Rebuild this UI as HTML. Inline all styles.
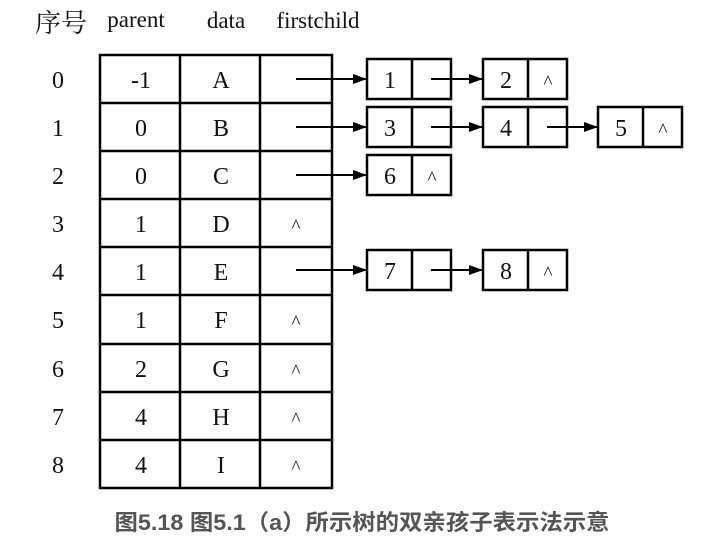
<!DOCTYPE html>
<html><head><meta charset="utf-8"><style>
body{margin:0;background:#fff;}
</style></head><body>
<svg width="718" height="556" xmlns="http://www.w3.org/2000/svg" style="display:block">
<defs><marker id="a" markerWidth="14" markerHeight="10" refX="14" refY="5" orient="auto" markerUnits="userSpaceOnUse"><path d="M0,0 L14,5 L0,10 z" fill="#000"/></marker></defs>
<g font-family="Liberation Serif, serif" font-size="23" fill="#111" text-anchor="middle">
<text x="61" y="32" font-family="Liberation Serif, Noto Serif CJK SC, serif" font-size="26">序号</text>
<text x="136" y="27">parent</text>
<text x="226" y="28">data</text>
<text x="318" y="28">firstchild</text>
</g>
<g stroke="#000" stroke-width="2.5" fill="none">
<rect x="100" y="55" width="232" height="433"/>
<line x1="180" y1="55" x2="180" y2="488"/>
<line x1="260" y1="55" x2="260" y2="488"/>
<line x1="100" y1="103" x2="332" y2="103"/>
<line x1="100" y1="151" x2="332" y2="151"/>
<line x1="100" y1="199" x2="332" y2="199"/>
<line x1="100" y1="247" x2="332" y2="247"/>
<line x1="100" y1="295" x2="332" y2="295"/>
<line x1="100" y1="344" x2="332" y2="344"/>
<line x1="100" y1="392" x2="332" y2="392"/>
<line x1="100" y1="440" x2="332" y2="440"/>
</g>
<g font-family="Liberation Serif, serif" font-size="24" fill="#111" text-anchor="middle">
<g><text x="58" y="88">0</text><text x="141" y="88">-1</text><text x="221" y="88">A</text></g>
<g><text x="58" y="136">1</text><text x="141" y="136">0</text><text x="221" y="136">B</text></g>
<g><text x="58" y="184">2</text><text x="141" y="184">0</text><text x="221" y="184">C</text></g>
<g><text x="58" y="232">3</text><text x="141" y="232">1</text><text x="221" y="232">D</text><text x="296" y="232" font-size="19">^</text></g>
<g><text x="58" y="280">4</text><text x="141" y="280">1</text><text x="221" y="280">E</text></g>
<g><text x="58" y="328">5</text><text x="141" y="328">1</text><text x="221" y="328">F</text><text x="296" y="328" font-size="19">^</text></g>
<g><text x="58" y="377">6</text><text x="141" y="377">2</text><text x="221" y="377">G</text><text x="296" y="377" font-size="19">^</text></g>
<g><text x="58" y="425">7</text><text x="141" y="425">4</text><text x="221" y="425">H</text><text x="296" y="425" font-size="19">^</text></g>
<g><text x="58" y="473">8</text><text x="141" y="473">4</text><text x="221" y="473">I</text><text x="296" y="473" font-size="19">^</text></g>
</g>
<g stroke="#000" stroke-width="2.5" fill="none">
<rect x="367" y="59" width="84" height="40"/><line x1="412" y1="59" x2="412" y2="99"/>
<rect x="483" y="59" width="84" height="40"/><line x1="528" y1="59" x2="528" y2="99"/>
<rect x="367" y="107" width="84" height="40"/><line x1="412" y1="107" x2="412" y2="147"/>
<rect x="483" y="107" width="84" height="40"/><line x1="528" y1="107" x2="528" y2="147"/>
<rect x="598" y="107" width="84" height="40"/><line x1="643" y1="107" x2="643" y2="147"/>
<rect x="367" y="155" width="84" height="40"/><line x1="412" y1="155" x2="412" y2="195"/>
<rect x="367" y="250" width="84" height="40"/><line x1="412" y1="250" x2="412" y2="290"/>
<rect x="483" y="250" width="84" height="40"/><line x1="528" y1="250" x2="528" y2="290"/>
</g>
<g stroke="#000" stroke-width="2" marker-end="url(#a)">
<line x1="296" y1="79" x2="367" y2="79"/>
<line x1="431" y1="79" x2="483" y2="79"/>
<line x1="296" y1="127" x2="367" y2="127"/>
<line x1="431" y1="127" x2="483" y2="127"/>
<line x1="547" y1="127" x2="598" y2="127"/>
<line x1="296" y1="175" x2="367" y2="175"/>
<line x1="296" y1="270" x2="367" y2="270"/>
<line x1="431" y1="270" x2="483" y2="270"/>
</g>
<g font-family="Liberation Serif, serif" font-size="24" fill="#111" text-anchor="middle">
<text x="390" y="88">1</text><text x="506" y="88">2</text><text x="548" y="88" font-size="19">^</text>
<text x="390" y="136">3</text><text x="506" y="136">4</text><text x="621" y="136">5</text><text x="663" y="136" font-size="19">^</text>
<text x="390" y="184">6</text><text x="432" y="184" font-size="19">^</text>
<text x="390" y="279">7</text><text x="506" y="279">8</text><text x="548" y="279" font-size="19">^</text>
</g>
<text x="362" y="530" text-anchor="middle" font-family="Liberation Sans, Noto Sans CJK SC, sans-serif" font-size="22" font-weight="bold" fill="#555" textLength="495" lengthAdjust="spacingAndGlyphs">图5.18 图5.1（a）所示树的双亲孩子表示法示意</text>
</svg>
</body></html>
